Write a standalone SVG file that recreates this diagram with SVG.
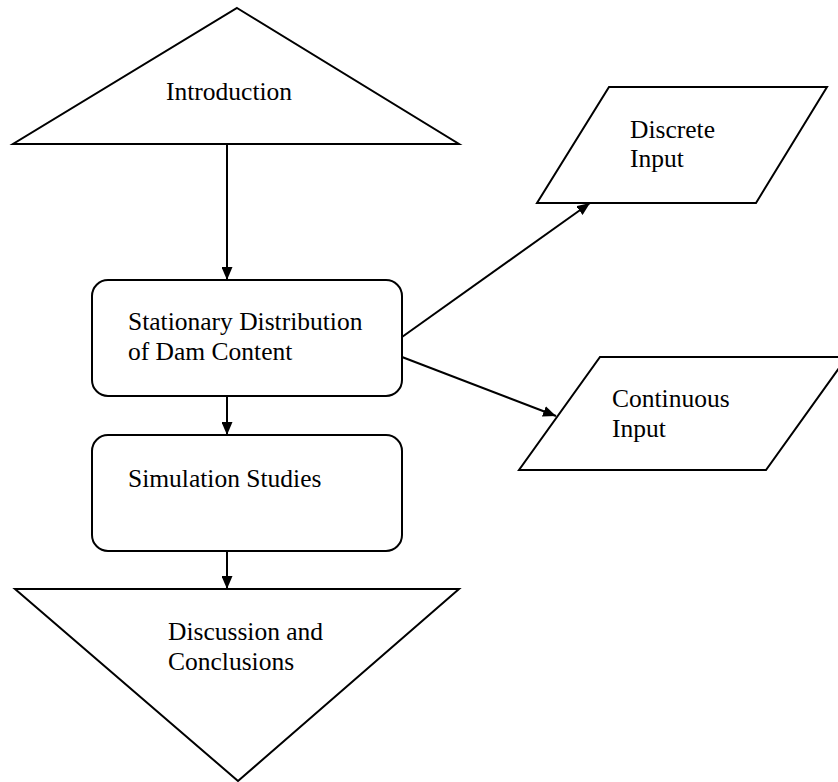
<svg xmlns="http://www.w3.org/2000/svg" width="838" height="782" viewBox="0 0 838 782">
<defs>
<marker id="arr" markerWidth="13" markerHeight="11" refX="13" refY="5.5" orient="auto" markerUnits="userSpaceOnUse">
<path d="M0,0 L13,5.5 L0,11 Z" fill="#000"/>
</marker>
</defs>
<style>
.s{fill:#fff;stroke:#000;stroke-width:2;stroke-linejoin:miter}
.c{stroke:#000;stroke-width:2;fill:none}
text{font-family:"Liberation Serif","Times New Roman",serif;font-size:25.5px;fill:#000}
</style>
<rect width="838" height="782" fill="#fff"/>
<g id="introduction">
<polygon class="s" points="237,8 459,144 13,144"/>
<text x="166" y="100">Introduction</text>
</g>
<g id="stationary">
<rect class="s" x="92" y="280" width="310" height="116" rx="16"/>
<text x="128" y="330">Stationary Distribution</text>
<text x="128" y="360">of Dam Content</text>
</g>
<g id="simulation">
<rect class="s" x="92" y="435" width="310" height="116" rx="16"/>
<text x="128" y="487">Simulation Studies</text>
</g>
<g id="discussion">
<polygon class="s" points="15,589 459,589 238,781"/>
<text x="168" y="640">Discussion and</text>
<text x="168" y="670">Conclusions</text>
</g>
<g id="discrete">
<polygon class="s" points="609,87 827,87 756,203 537,203"/>
<text x="630" y="138">Discrete</text>
<text x="630" y="167">Input</text>
</g>
<g id="continuous">
<polygon class="s" points="600,357 847,357 766,470 519,470"/>
<text x="612" y="407">Continuous</text>
<text x="612" y="437">Input</text>
</g>
<g id="connectors">
<line class="c" x1="227" y1="144" x2="227" y2="280" marker-end="url(#arr)"/>
<line class="c" x1="227" y1="396" x2="227" y2="435" marker-end="url(#arr)"/>
<line class="c" x1="227" y1="551" x2="227" y2="589" marker-end="url(#arr)"/>
<line class="c" x1="402" y1="337" x2="590" y2="203" marker-end="url(#arr)"/>
<line class="c" x1="402" y1="357" x2="556" y2="416" marker-end="url(#arr)"/>
</g>
</svg>
